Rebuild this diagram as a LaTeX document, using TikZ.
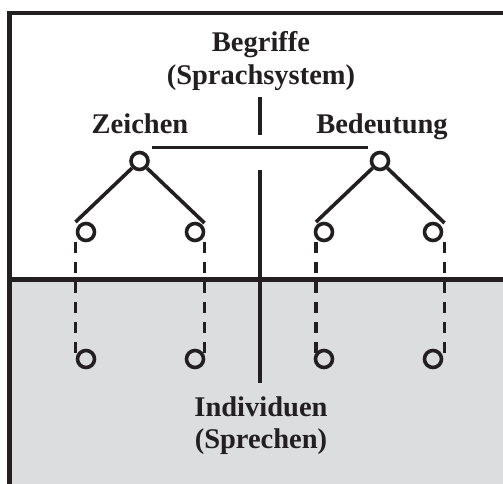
\documentclass[tikz,border=0pt]{standalone}
\usepackage{fontspec}
\setmainfont{Liberation Serif}
\definecolor{ink}{HTML}{231F20}
\definecolor{speechgray}{HTML}{DCDDDF}
\begin{document}
\begin{tikzpicture}[x=1pt,y=-1pt,
  dot/.style={circle,draw=ink,line width=3.6pt,minimum size=17pt,inner sep=0pt},
  link/.style={draw=ink,line width=3.6pt},
  dashlink/.style={draw=ink,line width=3.6pt,dash pattern=on 11pt off 9pt},
  frame/.style={draw=ink,line width=4.5pt},
  label/.style={anchor=base,inner sep=0pt,text=ink,font=\fontsize{28.5}{34}\selectfont\bfseries}]
\useasboundingbox (0,0) rectangle (503,484);
\clip (0,0) rectangle (503,484);

% lower field (speaking individuals) and the frame
\fill[speechgray] (9.3,279.3) rectangle (520,500);
\draw[frame] (9.3,500) -- (9.3,13) -- (520,13);
\draw[frame] (9.3,279.3) -- (520,279.3);

% labels
\node[label] (begr) at (261,51.7) {Begriffe};
\node[label] (sys)  at (261,85)   {(Sprachsystem)};
\node[label] (zei)  at (140,133.3) {Zeichen};
\node[label] (bed)  at (382,133.3) {Bedeutung};
\node[label] (ind)  at (261,416.7) {Individuen};
\node[label] (spr)  at (261,448)   {(Sprechen)};

% central divider
\coordinate (c1) at (260,97);
\coordinate (c2) at (260,135);
\coordinate (c3) at (260,170);
\coordinate (c4) at (260,383);
\draw[link] (c1) -- (c2);
\draw[link] (c3) -- (c4);

% sign tree (left) and meaning tree (right)
\node[dot] (zt) at (139.5,161) {};
\node[dot] (bt) at (380,161) {};
\coordinate (h1) at (152,147.5);
\coordinate (h2) at (368,147.5);
\draw[link] (h1) -- (h2);

\node[dot] (z1) at (86,232) {};
\node[dot] (z2) at (195,232) {};
\node[dot] (b1) at (324,232) {};
\node[dot] (b2) at (433,232) {};

\coordinate (z1a) at (75.5,222);
\coordinate (z2a) at (204.5,223);
\coordinate (b1a) at (316,222);
\coordinate (b2a) at (444.5,223);
\draw[link] (zt) -- (z1a);
\draw[link] (zt) -- (z2a);
\draw[link] (bt) -- (b1a);
\draw[link] (bt) -- (b2a);

% individual realisations
\node[dot] (z1u) at (86,359) {};
\node[dot] (z2u) at (195,359) {};
\node[dot] (b1u) at (324,359) {};
\node[dot] (b2u) at (433,359) {};

\foreach \x/\n in {75.5/z1,204.5/z2,316/b1,444.5/b2}{
  \coordinate (\n top) at (\x,242);
  \coordinate (\n bot) at (\x,353);
  \draw[dashlink] (\n top) -- (\n bot);
}
\end{tikzpicture}
\end{document}
